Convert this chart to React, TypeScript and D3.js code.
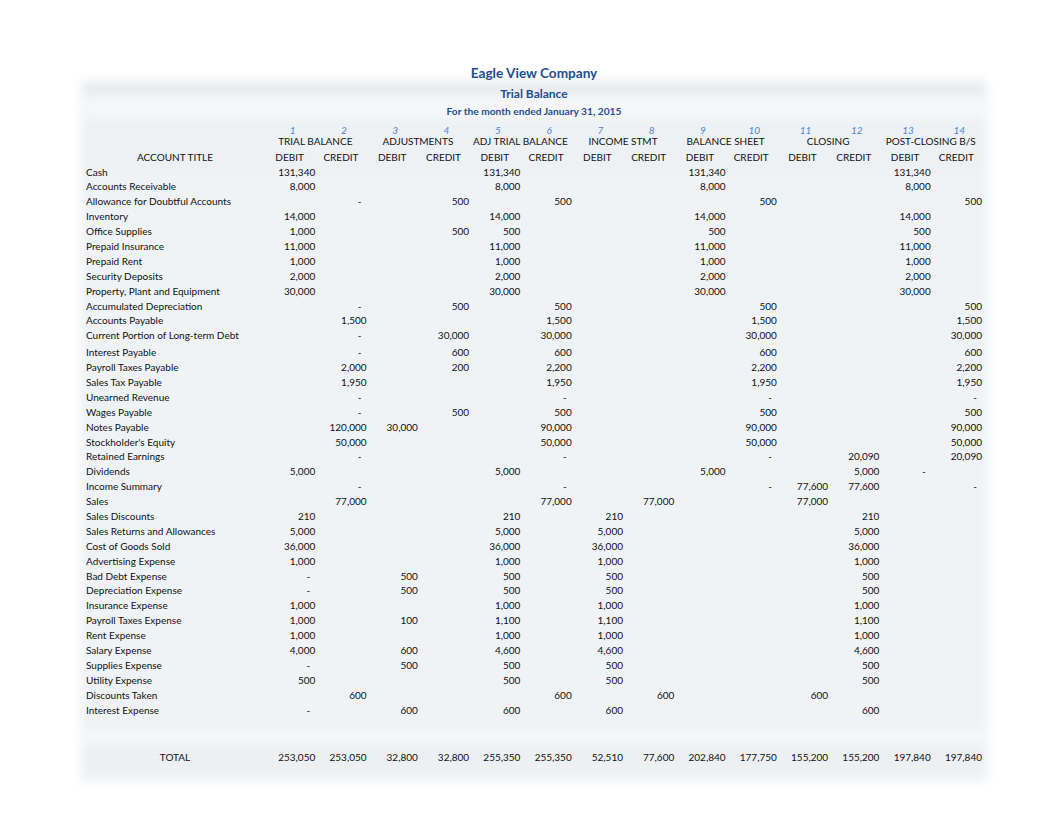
import React from "react";
import * as d3 from "d3";

const _ = null;

const accounts = [
  "Cash", "Accounts Receivable", "Allowance for Doubtful Accounts", "Inventory", "Office Supplies",
  "Prepaid Insurance", "Prepaid Rent", "Security Deposits", "Property, Plant and Equipment",
  "Accumulated Depreciation", "Accounts Payable", "Current Portion of Long-term Debt", "Interest Payable",
  "Payroll Taxes Payable", "Sales Tax Payable", "Unearned Revenue", "Wages Payable", "Notes Payable",
  "Stockholder's Equity", "Retained Earnings", "Dividends", "Income Summary", "Sales", "Sales Discounts",
  "Sales Returns and Allowances", "Cost of Goods Sold", "Advertising Expense", "Bad Debt Expense",
  "Depreciation Expense", "Insurance Expense", "Payroll Taxes Expense", "Rent Expense", "Salary Expense",
  "Supplies Expense", "Utility Expense", "Discounts Taken", "Interest Expense",
];

const groups = ["TRIAL BALANCE", "ADJUSTMENTS", "ADJ TRIAL BALANCE", "INCOME STMT", "BALANCE SHEET", "CLOSING", "POST-CLOSING B/S"];

// 0 shows as "-", null is blank
const tbDebit = [131340, 8000, _, 14000, 1000, 11000, 1000, 2000, 30000, _, _, _, _, _, _, _, _, _, _, _, 5000, _, _, 210, 5000, 36000, 1000, 0, 0, 1000, 1000, 1000, 4000, 0, 500, _, 0];
const tbCredit = [_, _, 0, _, _, _, _, _, _, 0, 1500, 0, 0, 2000, 1950, 0, 0, 120000, 50000, 0, _, 0, 77000, _, _, _, _, _, _, _, _, _, _, _, _, 600, _];
const adjDebit = [_, _, _, _, _, _, _, _, _, _, _, _, _, _, _, _, _, 30000, _, _, _, _, _, _, _, _, _, 500, 500, _, 100, _, 600, 500, _, _, 600];
const adjCredit = [_, _, 500, _, 500, _, _, _, _, 500, _, 30000, 600, 200, _, _, 500, _, _, _, _, _, _, _, _, _, _, _, _, _, _, _, _, _, _, _, _];
const atbDebit = [131340, 8000, _, 14000, 500, 11000, 1000, 2000, 30000, _, _, _, _, _, _, _, _, _, _, _, 5000, _, _, 210, 5000, 36000, 1000, 500, 500, 1000, 1100, 1000, 4600, 500, 500, _, 600];
const atbCredit = [_, _, 500, _, _, _, _, _, _, 500, 1500, 30000, 600, 2200, 1950, 0, 500, 90000, 50000, 0, _, 0, 77000, _, _, _, _, _, _, _, _, _, _, _, _, 600, _];
const isDebit = [_, _, _, _, _, _, _, _, _, _, _, _, _, _, _, _, _, _, _, _, _, _, _, 210, 5000, 36000, 1000, 500, 500, 1000, 1100, 1000, 4600, 500, 500, _, 600];
const isCredit = [_, _, _, _, _, _, _, _, _, _, _, _, _, _, _, _, _, _, _, _, _, _, 77000, _, _, _, _, _, _, _, _, _, _, _, _, 600, _];
const bsDebit = [131340, 8000, _, 14000, 500, 11000, 1000, 2000, 30000, _, _, _, _, _, _, _, _, _, _, _, 5000, _, _, _, _, _, _, _, _, _, _, _, _, _, _, _, _];
const bsCredit = [_, _, 500, _, _, _, _, _, _, 500, 1500, 30000, 600, 2200, 1950, 0, 500, 90000, 50000, 0, _, 0, _, _, _, _, _, _, _, _, _, _, _, _, _, _, _];
const clDebit = [_, _, _, _, _, _, _, _, _, _, _, _, _, _, _, _, _, _, _, _, _, 77600, 77000, _, _, _, _, _, _, _, _, _, _, _, _, 600, _];
const clCredit = [_, _, _, _, _, _, _, _, _, _, _, _, _, _, _, _, _, _, _, 20090, 5000, 77600, _, 210, 5000, 36000, 1000, 500, 500, 1000, 1100, 1000, 4600, 500, 500, _, 600];
const pcDebit = [131340, 8000, _, 14000, 500, 11000, 1000, 2000, 30000, _, _, _, _, _, _, _, _, _, _, _, 0, _, _, _, _, _, _, _, _, _, _, _, _, _, _, _, _];
const pcCredit = [_, _, 500, _, _, _, _, _, _, 500, 1500, 30000, 600, 2200, 1950, 0, 500, 90000, 50000, 20090, _, 0, _, _, _, _, _, _, _, _, _, _, _, _, _, _, _];

const totals = [253050, 253050, 32800, 32800, 255350, 255350, 52510, 77600, 202840, 177750, 155200, 155200, 197840, 197840];

const columns = [tbDebit, tbCredit, adjDebit, adjCredit, atbDebit, atbCredit, isDebit, isCredit, bsDebit, bsCredit, clDebit, clCredit, pcDebit, pcCredit];

const W = 1062;
const H = 822;
const font = "Lato, 'Open Sans', sans-serif";
const navy = "#1f4e8f";

export default function App() {
  const fmt = d3.format(",");
  const x = d3.scaleBand<number>().domain(d3.range(14)).range([264, 982]);
  const bw = x.bandwidth();
  const y = d3.scalePoint<number>().domain(d3.range(accounts.length)).range([172, 708]);
  // row 12 onward sits a little lower (taller row above it)
  const rowY = (i: number) => (y(i) as number) + (i >= 12 ? 2 : 0);
  const totalY = 757;

  return (
    <svg width={W} height={H} style={{ display: "block", position: "absolute", left: 0, top: 0 }} fontFamily={font}>
      <defs>
        <filter id="blur" x="-5%" y="-5%" width="110%" height="110%">
          <feGaussianBlur stdDeviation="5" />
        </filter>
      </defs>
      <rect width={W} height={H} fill="#fff" />
      <g filter="url(#blur)">
        <rect x={80} y={80} width={908} height={702} fill="#f0f3f5" />
        <rect x={84} y={82} width={900} height={12} fill="#e8ebef" />
        <rect x={84} y={96} width={900} height={22} fill="#f4f6f8" />
        <rect x={84} y={120} width={900} height={52} fill="#eef1f4" />
        <rect x={84} y={730} width={900} height={14} fill="#f5f7f8" />
        <rect x={84} y={746} width={900} height={26} fill="#edf0f2" />
      </g>

      <g fill={navy} fontWeight="bold" textAnchor="middle">
        <text x={534} y={73} dy="0.35em" fontSize={13.6}>Eagle View Company</text>
        <text x={534} y={94} dy="0.35em" fontSize={12}>Trial Balance</text>
        <text x={534} y={111} dy="0.35em" fontSize={10.2}>For the month ended January 31, 2015</text>
      </g>

      <g fontSize={10} fill="#111">
        {d3.range(14).map((c) => (
          <text key={"n" + c} x={(x(c) as number) + bw / 2 + 3} y={130} dy="0.35em" textAnchor="middle"
            fontStyle="italic" fill="#4a86d6" fontSize={10}>{c + 1}</text>
        ))}
        {groups.map((g, k) => (
          <text key={g} x={(x(k * 2) as number) + bw} y={141} dy="0.35em" textAnchor="middle">{g}</text>
        ))}
        {d3.range(14).map((c) => (
          <text key={"h" + c} x={(x(c) as number) + bw / 2} y={157} dy="0.35em" textAnchor="middle">
            {c % 2 === 0 ? "DEBIT" : "CREDIT"}
          </text>
        ))}
        <text x={175} y={157} dy="0.35em" textAnchor="middle">ACCOUNT TITLE</text>

        {accounts.map((a, i) => (
          <text key={a} x={86} y={rowY(i)} dy="0.35em">{a}</text>
        ))}

        {columns.map((col, c) =>
          col.map((v, i) =>
            v === null ? null : (
              <text key={c + "-" + i} x={(x(c) as number) + bw - (v === 0 ? 5 : 0)} y={rowY(i)} dy="0.35em" textAnchor="end">
                {v === 0 ? "-" : fmt(v)}
              </text>
            )
          )
        )}

        <text x={175} y={totalY} dy="0.35em" textAnchor="middle">TOTAL</text>
        {totals.map((v, c) => (
          <text key={"t" + c} x={(x(c) as number) + bw} y={totalY} dy="0.35em" textAnchor="end">{fmt(v)}</text>
        ))}
      </g>
    </svg>
  );
}
